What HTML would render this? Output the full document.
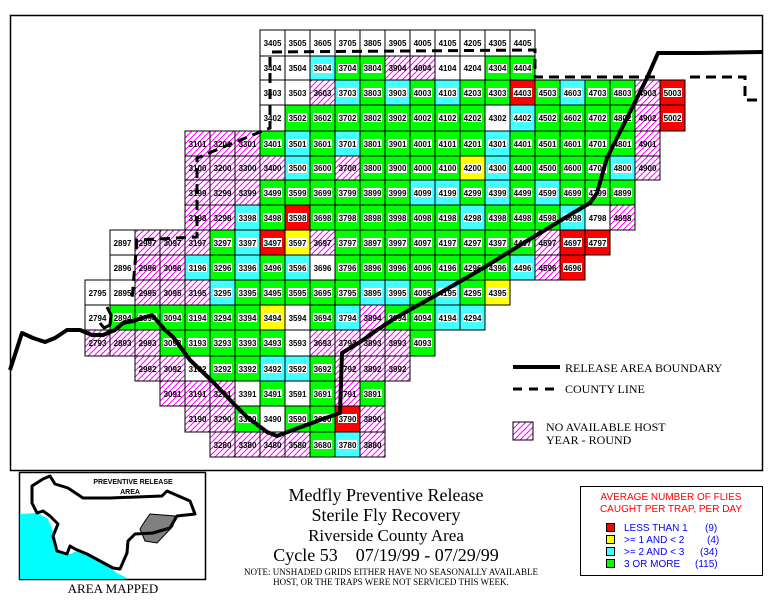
<!DOCTYPE html>
<html><head><meta charset="utf-8"><style>
html,body{margin:0;padding:0;background:#fff;}
svg{display:block;}
.G{fill:#00ff00;stroke:#000;stroke-width:1}
.R{fill:#ff0000;stroke:#000;stroke-width:1}
.Y{fill:#ffff00;stroke:#000;stroke-width:1}
.C{fill:#44ffff;stroke:#000;stroke-width:1}
.H{fill:url(#hatch);stroke:#000;stroke-width:1}
.W{fill:#fff;stroke:#000;stroke-width:1}
.l{fill:#fff}
.t{font-family:"Liberation Sans",sans-serif;font-size:8px;font-weight:bold;text-anchor:middle;fill:#000}
.s{font-family:"Liberation Serif",serif;fill:#000}
</style></head><body>
<svg width="774" height="608" viewBox="0 0 774 608" xmlns="http://www.w3.org/2000/svg">
<defs>
<pattern id="hatch" width="6" height="6" patternUnits="userSpaceOnUse"><rect width="6" height="6" fill="#fff"/><path d="M-1,7 L7,-1 M-1,1 L1,-1 M5,7 L7,5" stroke="#ff00ff" stroke-width="1"/></pattern>
</defs>
<rect x="10.5" y="15.5" width="752" height="455" fill="#fff" stroke="#000" stroke-width="1.5"/>
<g>
<g transform="translate(0,30)">
<rect class="W" x="260" width="25" height="26"/><text class="t" x="272.5" y="16">3405</text>
<rect class="W" x="285" width="25" height="26"/><text class="t" x="297.5" y="16">3505</text>
<rect class="W" x="310" width="25" height="26"/><text class="t" x="322.5" y="16">3605</text>
<rect class="W" x="335" width="25" height="26"/><text class="t" x="347.5" y="16">3705</text>
<rect class="W" x="360" width="25" height="26"/><text class="t" x="372.5" y="16">3805</text>
<rect class="W" x="385" width="25" height="26"/><text class="t" x="397.5" y="16">3905</text>
<rect class="W" x="410" width="25" height="26"/><text class="t" x="422.5" y="16">4005</text>
<rect class="W" x="435" width="25" height="26"/><text class="t" x="447.5" y="16">4105</text>
<rect class="W" x="460" width="25" height="26"/><text class="t" x="472.5" y="16">4205</text>
<rect class="W" x="485" width="25" height="26"/><text class="t" x="497.5" y="16">4305</text>
<rect class="W" x="510" width="25" height="26"/><text class="t" x="522.5" y="16">4405</text>
</g>
<g transform="translate(0,56)">
<rect class="W" x="260" width="25" height="24"/><text class="t" x="272.5" y="15">3404</text>
<rect class="W" x="285" width="25" height="24"/><text class="t" x="297.5" y="15">3504</text>
<rect class="C" x="310" width="25" height="24"/><rect class="l" x="313" y="8" width="19" height="9"/><text class="t" x="322.5" y="15">3604</text>
<rect class="G" x="335" width="25" height="24"/><rect class="l" x="338" y="8" width="19" height="9"/><text class="t" x="347.5" y="15">3704</text>
<rect class="G" x="360" width="25" height="24"/><rect class="l" x="363" y="8" width="19" height="9"/><text class="t" x="372.5" y="15">3804</text>
<rect class="H" x="385" width="25" height="24"/><text class="t" x="397.5" y="15">3904</text>
<rect class="H" x="410" width="25" height="24"/><text class="t" x="422.5" y="15">4004</text>
<rect class="W" x="435" width="25" height="24"/><text class="t" x="447.5" y="15">4104</text>
<rect class="W" x="460" width="25" height="24"/><text class="t" x="472.5" y="15">4204</text>
<rect class="G" x="485" width="25" height="24"/><rect class="l" x="488" y="8" width="19" height="9"/><text class="t" x="497.5" y="15">4304</text>
<rect class="G" x="510" width="25" height="24"/><rect class="l" x="513" y="8" width="19" height="9"/><text class="t" x="522.5" y="15">4404</text>
</g>
<g transform="translate(0,80)">
<rect class="W" x="260" width="25" height="25"/><text class="t" x="272.5" y="16">3403</text>
<rect class="W" x="285" width="25" height="25"/><text class="t" x="297.5" y="16">3503</text>
<rect class="H" x="310" width="25" height="25"/><text class="t" x="322.5" y="16">3603</text>
<rect class="C" x="335" width="25" height="25"/><rect class="l" x="338" y="8" width="19" height="9"/><text class="t" x="347.5" y="16">3703</text>
<rect class="G" x="360" width="25" height="25"/><rect class="l" x="363" y="8" width="19" height="9"/><text class="t" x="372.5" y="16">3803</text>
<rect class="C" x="385" width="25" height="25"/><rect class="l" x="388" y="8" width="19" height="9"/><text class="t" x="397.5" y="16">3903</text>
<rect class="G" x="410" width="25" height="25"/><rect class="l" x="413" y="8" width="19" height="9"/><text class="t" x="422.5" y="16">4003</text>
<rect class="C" x="435" width="25" height="25"/><rect class="l" x="438" y="8" width="19" height="9"/><text class="t" x="447.5" y="16">4103</text>
<rect class="G" x="460" width="25" height="25"/><rect class="l" x="463" y="8" width="19" height="9"/><text class="t" x="472.5" y="16">4203</text>
<rect class="G" x="485" width="25" height="25"/><rect class="l" x="488" y="8" width="19" height="9"/><text class="t" x="497.5" y="16">4303</text>
<rect class="R" x="510" width="25" height="25"/><rect class="l" x="513" y="8" width="19" height="9"/><text class="t" x="522.5" y="16">4403</text>
<rect class="G" x="535" width="25" height="25"/><rect class="l" x="538" y="8" width="19" height="9"/><text class="t" x="547.5" y="16">4503</text>
<rect class="C" x="560" width="25" height="25"/><rect class="l" x="563" y="8" width="19" height="9"/><text class="t" x="572.5" y="16">4603</text>
<rect class="G" x="585" width="25" height="25"/><rect class="l" x="588" y="8" width="19" height="9"/><text class="t" x="597.5" y="16">4703</text>
<rect class="G" x="610" width="25" height="25"/><rect class="l" x="613" y="8" width="19" height="9"/><text class="t" x="622.5" y="16">4803</text>
<rect class="H" x="635" width="25" height="25"/><text class="t" x="647.5" y="16">4903</text>
<rect class="R" x="660" width="25" height="25"/><rect class="l" x="663" y="8" width="19" height="9"/><text class="t" x="672.5" y="16">5003</text>
</g>
<g transform="translate(0,105)">
<rect class="W" x="260" width="25" height="26"/><text class="t" x="272.5" y="16">3402</text>
<rect class="G" x="285" width="25" height="26"/><rect class="l" x="288" y="8" width="19" height="9"/><text class="t" x="297.5" y="16">3502</text>
<rect class="G" x="310" width="25" height="26"/><rect class="l" x="313" y="8" width="19" height="9"/><text class="t" x="322.5" y="16">3602</text>
<rect class="G" x="335" width="25" height="26"/><rect class="l" x="338" y="8" width="19" height="9"/><text class="t" x="347.5" y="16">3702</text>
<rect class="G" x="360" width="25" height="26"/><rect class="l" x="363" y="8" width="19" height="9"/><text class="t" x="372.5" y="16">3802</text>
<rect class="G" x="385" width="25" height="26"/><rect class="l" x="388" y="8" width="19" height="9"/><text class="t" x="397.5" y="16">3902</text>
<rect class="G" x="410" width="25" height="26"/><rect class="l" x="413" y="8" width="19" height="9"/><text class="t" x="422.5" y="16">4002</text>
<rect class="G" x="435" width="25" height="26"/><rect class="l" x="438" y="8" width="19" height="9"/><text class="t" x="447.5" y="16">4102</text>
<rect class="G" x="460" width="25" height="26"/><rect class="l" x="463" y="8" width="19" height="9"/><text class="t" x="472.5" y="16">4202</text>
<rect class="W" x="485" width="25" height="26"/><text class="t" x="497.5" y="16">4302</text>
<rect class="C" x="510" width="25" height="26"/><rect class="l" x="513" y="8" width="19" height="9"/><text class="t" x="522.5" y="16">4402</text>
<rect class="G" x="535" width="25" height="26"/><rect class="l" x="538" y="8" width="19" height="9"/><text class="t" x="547.5" y="16">4502</text>
<rect class="G" x="560" width="25" height="26"/><rect class="l" x="563" y="8" width="19" height="9"/><text class="t" x="572.5" y="16">4602</text>
<rect class="G" x="585" width="25" height="26"/><rect class="l" x="588" y="8" width="19" height="9"/><text class="t" x="597.5" y="16">4702</text>
<rect class="G" x="610" width="25" height="26"/><rect class="l" x="613" y="8" width="19" height="9"/><text class="t" x="622.5" y="16">4802</text>
<rect class="H" x="635" width="25" height="26"/><text class="t" x="647.5" y="16">4902</text>
<rect class="R" x="660" width="25" height="26"/><rect class="l" x="663" y="8" width="19" height="9"/><text class="t" x="672.5" y="16">5002</text>
</g>
<g transform="translate(0,131)">
<rect class="H" x="185" width="25" height="25"/><text class="t" x="197.5" y="16">3101</text>
<rect class="H" x="210" width="25" height="25"/><text class="t" x="222.5" y="16">3201</text>
<rect class="H" x="235" width="25" height="25"/><text class="t" x="247.5" y="16">3301</text>
<rect class="G" x="260" width="25" height="25"/><rect class="l" x="263" y="8" width="19" height="9"/><text class="t" x="272.5" y="16">3401</text>
<rect class="C" x="285" width="25" height="25"/><rect class="l" x="288" y="8" width="19" height="9"/><text class="t" x="297.5" y="16">3501</text>
<rect class="G" x="310" width="25" height="25"/><rect class="l" x="313" y="8" width="19" height="9"/><text class="t" x="322.5" y="16">3601</text>
<rect class="C" x="335" width="25" height="25"/><rect class="l" x="338" y="8" width="19" height="9"/><text class="t" x="347.5" y="16">3701</text>
<rect class="G" x="360" width="25" height="25"/><rect class="l" x="363" y="8" width="19" height="9"/><text class="t" x="372.5" y="16">3801</text>
<rect class="G" x="385" width="25" height="25"/><rect class="l" x="388" y="8" width="19" height="9"/><text class="t" x="397.5" y="16">3901</text>
<rect class="G" x="410" width="25" height="25"/><rect class="l" x="413" y="8" width="19" height="9"/><text class="t" x="422.5" y="16">4001</text>
<rect class="G" x="435" width="25" height="25"/><rect class="l" x="438" y="8" width="19" height="9"/><text class="t" x="447.5" y="16">4101</text>
<rect class="G" x="460" width="25" height="25"/><rect class="l" x="463" y="8" width="19" height="9"/><text class="t" x="472.5" y="16">4201</text>
<rect class="C" x="485" width="25" height="25"/><rect class="l" x="488" y="8" width="19" height="9"/><text class="t" x="497.5" y="16">4301</text>
<rect class="G" x="510" width="25" height="25"/><rect class="l" x="513" y="8" width="19" height="9"/><text class="t" x="522.5" y="16">4401</text>
<rect class="G" x="535" width="25" height="25"/><rect class="l" x="538" y="8" width="19" height="9"/><text class="t" x="547.5" y="16">4501</text>
<rect class="G" x="560" width="25" height="25"/><rect class="l" x="563" y="8" width="19" height="9"/><text class="t" x="572.5" y="16">4601</text>
<rect class="G" x="585" width="25" height="25"/><rect class="l" x="588" y="8" width="19" height="9"/><text class="t" x="597.5" y="16">4701</text>
<rect class="G" x="610" width="25" height="25"/><rect class="l" x="613" y="8" width="19" height="9"/><text class="t" x="622.5" y="16">4801</text>
<rect class="H" x="635" width="25" height="25"/><text class="t" x="647.5" y="16">4901</text>
</g>
<g transform="translate(0,156)">
<rect class="H" x="185" width="25" height="24"/><text class="t" x="197.5" y="15">3100</text>
<rect class="H" x="210" width="25" height="24"/><text class="t" x="222.5" y="15">3200</text>
<rect class="H" x="235" width="25" height="24"/><text class="t" x="247.5" y="15">3300</text>
<rect class="H" x="260" width="25" height="24"/><text class="t" x="272.5" y="15">3400</text>
<rect class="C" x="285" width="25" height="24"/><rect class="l" x="288" y="8" width="19" height="9"/><text class="t" x="297.5" y="15">3500</text>
<rect class="G" x="310" width="25" height="24"/><rect class="l" x="313" y="8" width="19" height="9"/><text class="t" x="322.5" y="15">3600</text>
<rect class="H" x="335" width="25" height="24"/><text class="t" x="347.5" y="15">3700</text>
<rect class="G" x="360" width="25" height="24"/><rect class="l" x="363" y="8" width="19" height="9"/><text class="t" x="372.5" y="15">3800</text>
<rect class="G" x="385" width="25" height="24"/><rect class="l" x="388" y="8" width="19" height="9"/><text class="t" x="397.5" y="15">3900</text>
<rect class="G" x="410" width="25" height="24"/><rect class="l" x="413" y="8" width="19" height="9"/><text class="t" x="422.5" y="15">4000</text>
<rect class="G" x="435" width="25" height="24"/><rect class="l" x="438" y="8" width="19" height="9"/><text class="t" x="447.5" y="15">4100</text>
<rect class="Y" x="460" width="25" height="24"/><rect class="l" x="463" y="8" width="19" height="9"/><text class="t" x="472.5" y="15">4200</text>
<rect class="C" x="485" width="25" height="24"/><rect class="l" x="488" y="8" width="19" height="9"/><text class="t" x="497.5" y="15">4300</text>
<rect class="G" x="510" width="25" height="24"/><rect class="l" x="513" y="8" width="19" height="9"/><text class="t" x="522.5" y="15">4400</text>
<rect class="G" x="535" width="25" height="24"/><rect class="l" x="538" y="8" width="19" height="9"/><text class="t" x="547.5" y="15">4500</text>
<rect class="G" x="560" width="25" height="24"/><rect class="l" x="563" y="8" width="19" height="9"/><text class="t" x="572.5" y="15">4600</text>
<rect class="G" x="585" width="25" height="24"/><rect class="l" x="588" y="8" width="19" height="9"/><text class="t" x="597.5" y="15">4700</text>
<rect class="C" x="610" width="25" height="24"/><rect class="l" x="613" y="8" width="19" height="9"/><text class="t" x="622.5" y="15">4800</text>
<rect class="H" x="635" width="25" height="24"/><text class="t" x="647.5" y="15">4900</text>
</g>
<g transform="translate(0,180)">
<rect class="H" x="185" width="25" height="25"/><text class="t" x="197.5" y="16">3199</text>
<rect class="H" x="210" width="25" height="25"/><text class="t" x="222.5" y="16">3299</text>
<rect class="H" x="235" width="25" height="25"/><text class="t" x="247.5" y="16">3399</text>
<rect class="G" x="260" width="25" height="25"/><rect class="l" x="263" y="8" width="19" height="9"/><text class="t" x="272.5" y="16">3499</text>
<rect class="G" x="285" width="25" height="25"/><rect class="l" x="288" y="8" width="19" height="9"/><text class="t" x="297.5" y="16">3599</text>
<rect class="G" x="310" width="25" height="25"/><rect class="l" x="313" y="8" width="19" height="9"/><text class="t" x="322.5" y="16">3699</text>
<rect class="G" x="335" width="25" height="25"/><rect class="l" x="338" y="8" width="19" height="9"/><text class="t" x="347.5" y="16">3799</text>
<rect class="G" x="360" width="25" height="25"/><rect class="l" x="363" y="8" width="19" height="9"/><text class="t" x="372.5" y="16">3899</text>
<rect class="G" x="385" width="25" height="25"/><rect class="l" x="388" y="8" width="19" height="9"/><text class="t" x="397.5" y="16">3999</text>
<rect class="C" x="410" width="25" height="25"/><rect class="l" x="413" y="8" width="19" height="9"/><text class="t" x="422.5" y="16">4099</text>
<rect class="C" x="435" width="25" height="25"/><rect class="l" x="438" y="8" width="19" height="9"/><text class="t" x="447.5" y="16">4199</text>
<rect class="G" x="460" width="25" height="25"/><rect class="l" x="463" y="8" width="19" height="9"/><text class="t" x="472.5" y="16">4299</text>
<rect class="C" x="485" width="25" height="25"/><rect class="l" x="488" y="8" width="19" height="9"/><text class="t" x="497.5" y="16">4399</text>
<rect class="G" x="510" width="25" height="25"/><rect class="l" x="513" y="8" width="19" height="9"/><text class="t" x="522.5" y="16">4499</text>
<rect class="C" x="535" width="25" height="25"/><rect class="l" x="538" y="8" width="19" height="9"/><text class="t" x="547.5" y="16">4599</text>
<rect class="G" x="560" width="25" height="25"/><rect class="l" x="563" y="8" width="19" height="9"/><text class="t" x="572.5" y="16">4699</text>
<rect class="G" x="585" width="25" height="25"/><rect class="l" x="588" y="8" width="19" height="9"/><text class="t" x="597.5" y="16">4799</text>
<rect class="G" x="610" width="25" height="25"/><rect class="l" x="613" y="8" width="19" height="9"/><text class="t" x="622.5" y="16">4899</text>
</g>
<g transform="translate(0,205)">
<rect class="H" x="185" width="25" height="25"/><text class="t" x="197.5" y="16">3198</text>
<rect class="H" x="210" width="25" height="25"/><text class="t" x="222.5" y="16">3298</text>
<rect class="C" x="235" width="25" height="25"/><rect class="l" x="238" y="8" width="19" height="9"/><text class="t" x="247.5" y="16">3398</text>
<rect class="G" x="260" width="25" height="25"/><rect class="l" x="263" y="8" width="19" height="9"/><text class="t" x="272.5" y="16">3498</text>
<rect class="R" x="285" width="25" height="25"/><rect class="l" x="288" y="8" width="19" height="9"/><text class="t" x="297.5" y="16">3598</text>
<rect class="G" x="310" width="25" height="25"/><rect class="l" x="313" y="8" width="19" height="9"/><text class="t" x="322.5" y="16">3698</text>
<rect class="G" x="335" width="25" height="25"/><rect class="l" x="338" y="8" width="19" height="9"/><text class="t" x="347.5" y="16">3798</text>
<rect class="G" x="360" width="25" height="25"/><rect class="l" x="363" y="8" width="19" height="9"/><text class="t" x="372.5" y="16">3898</text>
<rect class="G" x="385" width="25" height="25"/><rect class="l" x="388" y="8" width="19" height="9"/><text class="t" x="397.5" y="16">3998</text>
<rect class="G" x="410" width="25" height="25"/><rect class="l" x="413" y="8" width="19" height="9"/><text class="t" x="422.5" y="16">4098</text>
<rect class="G" x="435" width="25" height="25"/><rect class="l" x="438" y="8" width="19" height="9"/><text class="t" x="447.5" y="16">4198</text>
<rect class="C" x="460" width="25" height="25"/><rect class="l" x="463" y="8" width="19" height="9"/><text class="t" x="472.5" y="16">4298</text>
<rect class="G" x="485" width="25" height="25"/><rect class="l" x="488" y="8" width="19" height="9"/><text class="t" x="497.5" y="16">4398</text>
<rect class="G" x="510" width="25" height="25"/><rect class="l" x="513" y="8" width="19" height="9"/><text class="t" x="522.5" y="16">4498</text>
<rect class="G" x="535" width="25" height="25"/><rect class="l" x="538" y="8" width="19" height="9"/><text class="t" x="547.5" y="16">4598</text>
<rect class="C" x="560" width="25" height="25"/><rect class="l" x="563" y="8" width="19" height="9"/><text class="t" x="572.5" y="16">4698</text>
<rect class="W" x="585" width="25" height="25"/><text class="t" x="597.5" y="16">4798</text>
<rect class="H" x="610" width="25" height="25"/><text class="t" x="622.5" y="16">4898</text>
</g>
<g transform="translate(0,230)">
<rect class="W" x="110" width="25" height="25"/><text class="t" x="122.5" y="16">2897</text>
<rect class="H" x="135" width="25" height="25"/><text class="t" x="147.5" y="16">2997</text>
<rect class="H" x="160" width="25" height="25"/><text class="t" x="172.5" y="16">3097</text>
<rect class="H" x="185" width="25" height="25"/><text class="t" x="197.5" y="16">3197</text>
<rect class="G" x="210" width="25" height="25"/><rect class="l" x="213" y="8" width="19" height="9"/><text class="t" x="222.5" y="16">3297</text>
<rect class="C" x="235" width="25" height="25"/><rect class="l" x="238" y="8" width="19" height="9"/><text class="t" x="247.5" y="16">3397</text>
<rect class="R" x="260" width="25" height="25"/><rect class="l" x="263" y="8" width="19" height="9"/><text class="t" x="272.5" y="16">3497</text>
<rect class="Y" x="285" width="25" height="25"/><rect class="l" x="288" y="8" width="19" height="9"/><text class="t" x="297.5" y="16">3597</text>
<rect class="H" x="310" width="25" height="25"/><text class="t" x="322.5" y="16">3697</text>
<rect class="G" x="335" width="25" height="25"/><rect class="l" x="338" y="8" width="19" height="9"/><text class="t" x="347.5" y="16">3797</text>
<rect class="G" x="360" width="25" height="25"/><rect class="l" x="363" y="8" width="19" height="9"/><text class="t" x="372.5" y="16">3897</text>
<rect class="G" x="385" width="25" height="25"/><rect class="l" x="388" y="8" width="19" height="9"/><text class="t" x="397.5" y="16">3997</text>
<rect class="G" x="410" width="25" height="25"/><rect class="l" x="413" y="8" width="19" height="9"/><text class="t" x="422.5" y="16">4097</text>
<rect class="G" x="435" width="25" height="25"/><rect class="l" x="438" y="8" width="19" height="9"/><text class="t" x="447.5" y="16">4197</text>
<rect class="G" x="460" width="25" height="25"/><rect class="l" x="463" y="8" width="19" height="9"/><text class="t" x="472.5" y="16">4297</text>
<rect class="G" x="485" width="25" height="25"/><rect class="l" x="488" y="8" width="19" height="9"/><text class="t" x="497.5" y="16">4397</text>
<rect class="G" x="510" width="25" height="25"/><rect class="l" x="513" y="8" width="19" height="9"/><text class="t" x="522.5" y="16">4497</text>
<rect class="H" x="535" width="25" height="25"/><text class="t" x="547.5" y="16">4597</text>
<rect class="R" x="560" width="25" height="25"/><rect class="l" x="563" y="8" width="19" height="9"/><text class="t" x="572.5" y="16">4697</text>
<rect class="R" x="585" width="25" height="25"/><rect class="l" x="588" y="8" width="19" height="9"/><text class="t" x="597.5" y="16">4797</text>
</g>
<g transform="translate(0,255)">
<rect class="W" x="110" width="25" height="25"/><text class="t" x="122.5" y="16">2896</text>
<rect class="H" x="135" width="25" height="25"/><text class="t" x="147.5" y="16">2996</text>
<rect class="H" x="160" width="25" height="25"/><text class="t" x="172.5" y="16">3096</text>
<rect class="C" x="185" width="25" height="25"/><rect class="l" x="188" y="8" width="19" height="9"/><text class="t" x="197.5" y="16">3196</text>
<rect class="G" x="210" width="25" height="25"/><rect class="l" x="213" y="8" width="19" height="9"/><text class="t" x="222.5" y="16">3296</text>
<rect class="C" x="235" width="25" height="25"/><rect class="l" x="238" y="8" width="19" height="9"/><text class="t" x="247.5" y="16">3396</text>
<rect class="G" x="260" width="25" height="25"/><rect class="l" x="263" y="8" width="19" height="9"/><text class="t" x="272.5" y="16">3496</text>
<rect class="C" x="285" width="25" height="25"/><rect class="l" x="288" y="8" width="19" height="9"/><text class="t" x="297.5" y="16">3596</text>
<rect class="W" x="310" width="25" height="25"/><text class="t" x="322.5" y="16">3696</text>
<rect class="G" x="335" width="25" height="25"/><rect class="l" x="338" y="8" width="19" height="9"/><text class="t" x="347.5" y="16">3796</text>
<rect class="G" x="360" width="25" height="25"/><rect class="l" x="363" y="8" width="19" height="9"/><text class="t" x="372.5" y="16">3896</text>
<rect class="G" x="385" width="25" height="25"/><rect class="l" x="388" y="8" width="19" height="9"/><text class="t" x="397.5" y="16">3996</text>
<rect class="G" x="410" width="25" height="25"/><rect class="l" x="413" y="8" width="19" height="9"/><text class="t" x="422.5" y="16">4096</text>
<rect class="G" x="435" width="25" height="25"/><rect class="l" x="438" y="8" width="19" height="9"/><text class="t" x="447.5" y="16">4196</text>
<rect class="G" x="460" width="25" height="25"/><rect class="l" x="463" y="8" width="19" height="9"/><text class="t" x="472.5" y="16">4296</text>
<rect class="G" x="485" width="25" height="25"/><rect class="l" x="488" y="8" width="19" height="9"/><text class="t" x="497.5" y="16">4396</text>
<rect class="C" x="510" width="25" height="25"/><rect class="l" x="513" y="8" width="19" height="9"/><text class="t" x="522.5" y="16">4496</text>
<rect class="H" x="535" width="25" height="25"/><text class="t" x="547.5" y="16">4596</text>
<rect class="R" x="560" width="25" height="25"/><rect class="l" x="563" y="8" width="19" height="9"/><text class="t" x="572.5" y="16">4696</text>
</g>
<g transform="translate(0,280)">
<rect class="W" x="85" width="25" height="25"/><text class="t" x="97.5" y="16">2795</text>
<rect class="W" x="110" width="25" height="25"/><text class="t" x="122.5" y="16">2895</text>
<rect class="H" x="135" width="25" height="25"/><text class="t" x="147.5" y="16">2995</text>
<rect class="H" x="160" width="25" height="25"/><text class="t" x="172.5" y="16">3095</text>
<rect class="H" x="185" width="25" height="25"/><text class="t" x="197.5" y="16">3195</text>
<rect class="C" x="210" width="25" height="25"/><rect class="l" x="213" y="8" width="19" height="9"/><text class="t" x="222.5" y="16">3295</text>
<rect class="G" x="235" width="25" height="25"/><rect class="l" x="238" y="8" width="19" height="9"/><text class="t" x="247.5" y="16">3395</text>
<rect class="G" x="260" width="25" height="25"/><rect class="l" x="263" y="8" width="19" height="9"/><text class="t" x="272.5" y="16">3495</text>
<rect class="G" x="285" width="25" height="25"/><rect class="l" x="288" y="8" width="19" height="9"/><text class="t" x="297.5" y="16">3595</text>
<rect class="G" x="310" width="25" height="25"/><rect class="l" x="313" y="8" width="19" height="9"/><text class="t" x="322.5" y="16">3695</text>
<rect class="G" x="335" width="25" height="25"/><rect class="l" x="338" y="8" width="19" height="9"/><text class="t" x="347.5" y="16">3795</text>
<rect class="C" x="360" width="25" height="25"/><rect class="l" x="363" y="8" width="19" height="9"/><text class="t" x="372.5" y="16">3895</text>
<rect class="C" x="385" width="25" height="25"/><rect class="l" x="388" y="8" width="19" height="9"/><text class="t" x="397.5" y="16">3995</text>
<rect class="G" x="410" width="25" height="25"/><rect class="l" x="413" y="8" width="19" height="9"/><text class="t" x="422.5" y="16">4095</text>
<rect class="C" x="435" width="25" height="25"/><rect class="l" x="438" y="8" width="19" height="9"/><text class="t" x="447.5" y="16">4195</text>
<rect class="G" x="460" width="25" height="25"/><rect class="l" x="463" y="8" width="19" height="9"/><text class="t" x="472.5" y="16">4295</text>
<rect class="Y" x="485" width="25" height="25"/><rect class="l" x="488" y="8" width="19" height="9"/><text class="t" x="497.5" y="16">4395</text>
</g>
<g transform="translate(0,305)">
<rect class="W" x="85" width="25" height="25"/><text class="t" x="97.5" y="16">2794</text>
<rect class="G" x="110" width="25" height="25"/><rect class="l" x="113" y="8" width="19" height="9"/><text class="t" x="122.5" y="16">2894</text>
<rect class="G" x="135" width="25" height="25"/><rect class="l" x="138" y="8" width="19" height="9"/><text class="t" x="147.5" y="16">2994</text>
<rect class="G" x="160" width="25" height="25"/><rect class="l" x="163" y="8" width="19" height="9"/><text class="t" x="172.5" y="16">3094</text>
<rect class="G" x="185" width="25" height="25"/><rect class="l" x="188" y="8" width="19" height="9"/><text class="t" x="197.5" y="16">3194</text>
<rect class="G" x="210" width="25" height="25"/><rect class="l" x="213" y="8" width="19" height="9"/><text class="t" x="222.5" y="16">3294</text>
<rect class="G" x="235" width="25" height="25"/><rect class="l" x="238" y="8" width="19" height="9"/><text class="t" x="247.5" y="16">3394</text>
<rect class="Y" x="260" width="25" height="25"/><rect class="l" x="263" y="8" width="19" height="9"/><text class="t" x="272.5" y="16">3494</text>
<rect class="W" x="285" width="25" height="25"/><text class="t" x="297.5" y="16">3594</text>
<rect class="G" x="310" width="25" height="25"/><rect class="l" x="313" y="8" width="19" height="9"/><text class="t" x="322.5" y="16">3694</text>
<rect class="C" x="335" width="25" height="25"/><rect class="l" x="338" y="8" width="19" height="9"/><text class="t" x="347.5" y="16">3794</text>
<rect class="H" x="360" width="25" height="25"/><text class="t" x="372.5" y="16">3894</text>
<rect class="G" x="385" width="25" height="25"/><rect class="l" x="388" y="8" width="19" height="9"/><text class="t" x="397.5" y="16">3994</text>
<rect class="G" x="410" width="25" height="25"/><rect class="l" x="413" y="8" width="19" height="9"/><text class="t" x="422.5" y="16">4094</text>
<rect class="C" x="435" width="25" height="25"/><rect class="l" x="438" y="8" width="19" height="9"/><text class="t" x="447.5" y="16">4194</text>
<rect class="C" x="460" width="25" height="25"/><rect class="l" x="463" y="8" width="19" height="9"/><text class="t" x="472.5" y="16">4294</text>
</g>
<g transform="translate(0,330)">
<rect class="H" x="85" width="25" height="26"/><text class="t" x="97.5" y="16">2793</text>
<rect class="H" x="110" width="25" height="26"/><text class="t" x="122.5" y="16">2893</text>
<rect class="H" x="135" width="25" height="26"/><text class="t" x="147.5" y="16">2993</text>
<rect class="G" x="160" width="25" height="26"/><rect class="l" x="163" y="8" width="19" height="9"/><text class="t" x="172.5" y="16">3093</text>
<rect class="G" x="185" width="25" height="26"/><rect class="l" x="188" y="8" width="19" height="9"/><text class="t" x="197.5" y="16">3193</text>
<rect class="G" x="210" width="25" height="26"/><rect class="l" x="213" y="8" width="19" height="9"/><text class="t" x="222.5" y="16">3293</text>
<rect class="G" x="235" width="25" height="26"/><rect class="l" x="238" y="8" width="19" height="9"/><text class="t" x="247.5" y="16">3393</text>
<rect class="G" x="260" width="25" height="26"/><rect class="l" x="263" y="8" width="19" height="9"/><text class="t" x="272.5" y="16">3493</text>
<rect class="W" x="285" width="25" height="26"/><text class="t" x="297.5" y="16">3593</text>
<rect class="H" x="310" width="25" height="26"/><text class="t" x="322.5" y="16">3693</text>
<rect class="H" x="335" width="25" height="26"/><text class="t" x="347.5" y="16">3793</text>
<rect class="H" x="360" width="25" height="26"/><text class="t" x="372.5" y="16">3893</text>
<rect class="H" x="385" width="25" height="26"/><text class="t" x="397.5" y="16">3993</text>
<rect class="G" x="410" width="25" height="26"/><rect class="l" x="413" y="8" width="19" height="9"/><text class="t" x="422.5" y="16">4093</text>
</g>
<g transform="translate(0,356)">
<rect class="H" x="135" width="25" height="25"/><text class="t" x="147.5" y="16">2992</text>
<rect class="H" x="160" width="25" height="25"/><text class="t" x="172.5" y="16">3092</text>
<rect class="W" x="185" width="25" height="25"/><text class="t" x="197.5" y="16">3192</text>
<rect class="G" x="210" width="25" height="25"/><rect class="l" x="213" y="8" width="19" height="9"/><text class="t" x="222.5" y="16">3292</text>
<rect class="G" x="235" width="25" height="25"/><rect class="l" x="238" y="8" width="19" height="9"/><text class="t" x="247.5" y="16">3392</text>
<rect class="C" x="260" width="25" height="25"/><rect class="l" x="263" y="8" width="19" height="9"/><text class="t" x="272.5" y="16">3492</text>
<rect class="C" x="285" width="25" height="25"/><rect class="l" x="288" y="8" width="19" height="9"/><text class="t" x="297.5" y="16">3592</text>
<rect class="G" x="310" width="25" height="25"/><rect class="l" x="313" y="8" width="19" height="9"/><text class="t" x="322.5" y="16">3692</text>
<rect class="H" x="335" width="25" height="25"/><text class="t" x="347.5" y="16">3792</text>
<rect class="H" x="360" width="25" height="25"/><text class="t" x="372.5" y="16">3892</text>
<rect class="H" x="385" width="25" height="25"/><text class="t" x="397.5" y="16">3992</text>
</g>
<g transform="translate(0,381)">
<rect class="H" x="160" width="25" height="25"/><text class="t" x="172.5" y="16">3091</text>
<rect class="H" x="185" width="25" height="25"/><text class="t" x="197.5" y="16">3191</text>
<rect class="H" x="210" width="25" height="25"/><text class="t" x="222.5" y="16">3291</text>
<rect class="W" x="235" width="25" height="25"/><text class="t" x="247.5" y="16">3391</text>
<rect class="G" x="260" width="25" height="25"/><rect class="l" x="263" y="8" width="19" height="9"/><text class="t" x="272.5" y="16">3491</text>
<rect class="W" x="285" width="25" height="25"/><text class="t" x="297.5" y="16">3591</text>
<rect class="G" x="310" width="25" height="25"/><rect class="l" x="313" y="8" width="19" height="9"/><text class="t" x="322.5" y="16">3691</text>
<rect class="H" x="335" width="25" height="25"/><text class="t" x="347.5" y="16">3791</text>
<rect class="G" x="360" width="25" height="25"/><rect class="l" x="363" y="8" width="19" height="9"/><text class="t" x="372.5" y="16">3891</text>
</g>
<g transform="translate(0,406)">
<rect class="H" x="185" width="25" height="26"/><text class="t" x="197.5" y="16">3190</text>
<rect class="H" x="210" width="25" height="26"/><text class="t" x="222.5" y="16">3290</text>
<rect class="G" x="235" width="25" height="26"/><rect class="l" x="238" y="8" width="19" height="9"/><text class="t" x="247.5" y="16">3390</text>
<rect class="W" x="260" width="25" height="26"/><text class="t" x="272.5" y="16">3490</text>
<rect class="G" x="285" width="25" height="26"/><rect class="l" x="288" y="8" width="19" height="9"/><text class="t" x="297.5" y="16">3590</text>
<rect class="G" x="310" width="25" height="26"/><rect class="l" x="313" y="8" width="19" height="9"/><text class="t" x="322.5" y="16">3690</text>
<rect class="R" x="335" width="25" height="26"/><rect class="l" x="338" y="8" width="19" height="9"/><text class="t" x="347.5" y="16">3790</text>
<rect class="H" x="360" width="25" height="26"/><text class="t" x="372.5" y="16">3890</text>
</g>
<g transform="translate(0,432)">
<rect class="H" x="210" width="25" height="25"/><text class="t" x="222.5" y="16">3280</text>
<rect class="H" x="235" width="25" height="25"/><text class="t" x="247.5" y="16">3380</text>
<rect class="H" x="260" width="25" height="25"/><text class="t" x="272.5" y="16">3480</text>
<rect class="H" x="285" width="25" height="25"/><text class="t" x="297.5" y="16">3580</text>
<rect class="G" x="310" width="25" height="25"/><rect class="l" x="313" y="8" width="19" height="9"/><text class="t" x="322.5" y="16">3680</text>
<rect class="C" x="335" width="25" height="25"/><rect class="l" x="338" y="8" width="19" height="9"/><text class="t" x="347.5" y="16">3780</text>
<rect class="H" x="360" width="25" height="25"/><text class="t" x="372.5" y="16">3880</text>
</g>
</g>
<g fill="none" stroke="#000" stroke-width="3" stroke-dasharray="10,6">
<path d="M272,52 L535,50 L535,77 L655,77"/>
<path d="M690,77 L745,77 L745,100 L757,100"/>
<path d="M270,57 L270,128 L233,143 L197,158 L197,237 L137,240 L132,300"/>
</g>
<g fill="none" stroke="#000" stroke-width="4" stroke-linejoin="round">
<path d="M10,370 L22,333 L33,338 L45,342 L55,338 L67,330 L80,330 L92,335 L103,335 L115,330 L123,323 L133,321 L152,315 L165,330 L173,337 L190,360 L213,382 L233,403 L247,417 L267,432 L277,436 L293,430 L320,420 L340,413 L342,353 L350,348 L360,342 L377,330 L397,317 L440,293 L480,270 L517,247 L550,227 L573,213 L590,203 L597,193 L607,158 L627,118 L647,78 L658,53 L700,53 L762,52"/>
<path d="M107,307 L111,315 L110,325 L104,328 L100,323" stroke-width="3"/>
</g>
<line x1="513" y1="367" x2="560" y2="367" stroke="#000" stroke-width="4"/>
<text class="s" x="565" y="372" font-size="12">RELEASE AREA BOUNDARY</text>
<path d="M513,389 L560,389" stroke="#000" stroke-width="3" stroke-dasharray="9,7"/>
<text class="s" x="565" y="393" font-size="12">COUNTY LINE</text>
<rect x="513" y="422" width="20" height="18" fill="url(#hatch)" stroke="#000"/>
<text class="s" x="546" y="431" font-size="12">NO AVAILABLE HOST</text>
<text class="s" x="546" y="444" font-size="12">YEAR - ROUND</text>
<rect x="19.5" y="472.5" width="186" height="107" fill="#fff" stroke="#000" stroke-width="1.5"/>
<path d="M20,514 L38,513 L48,519 L55,536 L57,551 L70,554 L77,551 L90,554 L117,573 L127,578 L125,579 L20,579 Z" fill="#00ffff"/>
<path d="M150,514 L175,516 L173,526 L157,543 L145,541 L140,529 L145,521 Z" fill="#808080" stroke="#000" stroke-width="1"/>
<path d="M32,486 L43,479 L50,476 L55,484 L68,488 L83,498 L110,498 L162,496 L167,491 L190,501 L195,514 L177,516 L170,528 L153,533 L135,534 L128,541 L127,553 L120,569 L113,568 L87,554 L75,549 L70,546 L67,554 L57,551 L53,536 L58,524 L50,516 L43,511 L37,513 L32,503 Z" fill="none" stroke="#000" stroke-width="3" stroke-linejoin="round"/>
<text x="133" y="484" font-family="Liberation Sans,sans-serif" font-size="7" font-weight="bold" text-anchor="middle">PREVENTIVE RELEASE</text>
<text x="130" y="494" font-family="Liberation Sans,sans-serif" font-size="7" font-weight="bold" text-anchor="middle">AREA</text>
<text class="s" x="113" y="593" font-size="13" text-anchor="middle">AREA MAPPED</text>
<text class="s" x="386" y="501" font-size="18" text-anchor="middle">Medfly Preventive Release</text>
<text class="s" x="386" y="521" font-size="18" text-anchor="middle">Sterile Fly Recovery</text>
<text class="s" x="386" y="541" font-size="17" text-anchor="middle">Riverside County Area</text>
<text class="s" x="386" y="561" font-size="18" text-anchor="middle" xml:space="preserve">Cycle 53    07/19/99 - 07/29/99</text>
<text class="s" x="391" y="575" font-size="9" text-anchor="middle">NOTE: UNSHADED GRIDS EITHER HAVE NO SEASONALLY AVAILABLE</text>
<text class="s" x="391" y="585" font-size="9" text-anchor="middle">HOST, OR THE TRAPS WERE NOT SERVICED THIS WEEK.</text>
<rect x="580.5" y="486.5" width="182" height="89" fill="#fff" stroke="#000"/>
<g font-family="Liberation Sans,sans-serif" font-size="10">
<text x="671" y="500" fill="#ff0000" text-anchor="middle">AVERAGE NUMBER OF FLIES</text>
<text x="671" y="512" fill="#ff0000" text-anchor="middle">CAUGHT PER TRAP, PER DAY</text>
<rect x="606.5" y="523.5" width="8" height="8" fill="#ff0000" stroke="#000"/>
<rect x="606.5" y="535.5" width="8" height="8" fill="#ffff00" stroke="#000"/>
<rect x="606.5" y="547.5" width="8" height="8" fill="#44ffff" stroke="#000"/>
<rect x="606.5" y="559.5" width="8" height="8" fill="#00ff00" stroke="#000"/>
<g fill="#0000ff">
<text x="624" y="531">LESS THAN 1</text><text x="705" y="531">(9)</text>
<text x="624" y="543">&gt;= 1 AND &lt; 2</text><text x="707" y="543">(4)</text>
<text x="624" y="555">&gt;= 2 AND &lt; 3</text><text x="700" y="555">(34)</text>
<text x="624" y="567">3 OR MORE</text><text x="695" y="567">(115)</text>
</g>
</g>
</svg>
</body></html>
